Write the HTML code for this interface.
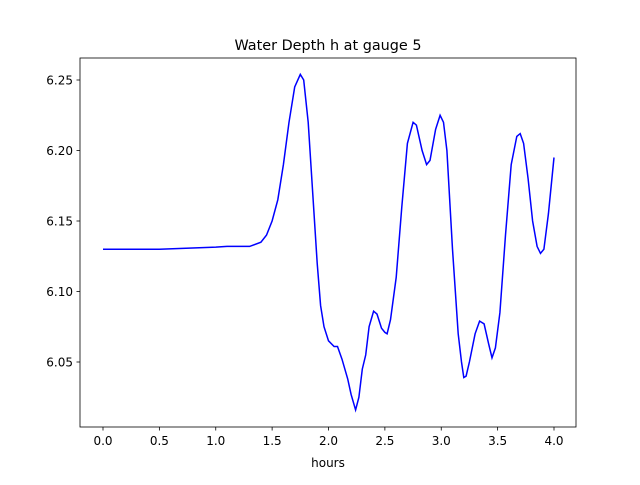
<!DOCTYPE html>
<html><head><meta charset="utf-8"><style>
body{margin:0;background:#fff;}
svg text{font-family:"DejaVu Sans","Liberation Sans",sans-serif;fill:#000;}
</style></head><body>
<svg id="chart" width="640" height="480" xmlns="http://www.w3.org/2000/svg">
<rect width="640" height="480" fill="#fff"/>
<text x="328" y="50" font-size="14.4" text-anchor="middle">Water Depth h at gauge 5</text>
<g id="ticks"></g>
<path id="series" fill="none" stroke="#0000ff" stroke-width="1.5"/>
<rect x="80" y="58" width="496" height="369" fill="none" stroke="#000" stroke-width="0.8"/>
<text x="328" y="467" font-size="12" text-anchor="middle">hours</text>
</svg>
<script>
const xTicks=[0,0.5,1,1.5,2,2.5,3,3.5,4];
const xTickLabels=["0.0","0.5","1.0","1.5","2.0","2.5","3.0","3.5","4.0"];
const yTicks=[6.05,6.10,6.15,6.20,6.25];
const yTickLabels=["6.05","6.10","6.15","6.20","6.25"];
const hours=[0,0.5,1.0,1.1,1.3,1.4,1.45,1.5,1.55,1.6,1.65,1.7,1.75,1.78,1.82,1.86,1.9,1.93,1.96,2.0,2.05,2.08,2.12,2.17,2.2,2.24,2.27,2.3,2.33,2.36,2.4,2.43,2.47,2.5,2.52,2.55,2.6,2.65,2.7,2.75,2.78,2.83,2.87,2.9,2.95,2.99,3.02,3.05,3.1,3.15,3.18,3.2,3.22,3.25,3.3,3.34,3.38,3.42,3.45,3.48,3.52,3.57,3.62,3.67,3.7,3.73,3.77,3.81,3.85,3.88,3.91,3.95,4.0];
const depth=[6.130,6.130,6.1315,6.132,6.132,6.135,6.14,6.15,6.165,6.19,6.22,6.245,6.254,6.25,6.22,6.17,6.12,6.09,6.075,6.065,6.061,6.061,6.052,6.038,6.027,6.016,6.025,6.045,6.055,6.075,6.086,6.084,6.074,6.071,6.07,6.08,6.11,6.16,6.205,6.22,6.218,6.2,6.19,6.193,6.215,6.225,6.22,6.2,6.13,6.07,6.05,6.039,6.04,6.05,6.07,6.079,6.077,6.063,6.053,6.06,6.085,6.14,6.19,6.21,6.212,6.205,6.18,6.15,6.132,6.127,6.13,6.155,6.195];
const X=v=>103+v*112.75;
const Y=v=>80+(6.25-v)*1410;
const NS="http://www.w3.org/2000/svg";
const g=document.getElementById('ticks');
xTicks.forEach((t,i)=>{
  const l=document.createElementNS(NS,'line');
  
  
  l.setAttribute('x1',X(t));l.setAttribute('x2',X(t));l.setAttribute('y1',427);l.setAttribute('y2',430.5);l.setAttribute('stroke','#000');l.setAttribute('stroke-width','0.8');
  g.appendChild(l);
  const tx=document.createElementNS(NS,'text');
  
  
  tx.setAttribute('x',X(t));tx.setAttribute('y',445);tx.setAttribute('font-size','12');tx.setAttribute('text-anchor','middle');
  tx.textContent=xTickLabels[i];g.appendChild(tx);
});
yTicks.forEach((t,i)=>{
  const l=document.createElementNS(NS,'line');
  
  
  l.setAttribute('x1',76.5);l.setAttribute('x2',80);l.setAttribute('y1',Y(t));l.setAttribute('y2',Y(t));l.setAttribute('stroke','#000');l.setAttribute('stroke-width','0.8');
  g.appendChild(l);
  const tx=document.createElementNS(NS,'text');
  
  
  tx.setAttribute('x',73);tx.setAttribute('y',Y(t)+4.5);tx.setAttribute('font-size','12');tx.setAttribute('text-anchor','end');
  tx.textContent=yTickLabels[i];g.appendChild(tx);
});
document.getElementById('series').setAttribute('d',hours.map((h,i)=>(i?'L':'M')+X(h).toFixed(1)+','+Y(depth[i]).toFixed(1)).join(' '));
</script>
</body></html>
